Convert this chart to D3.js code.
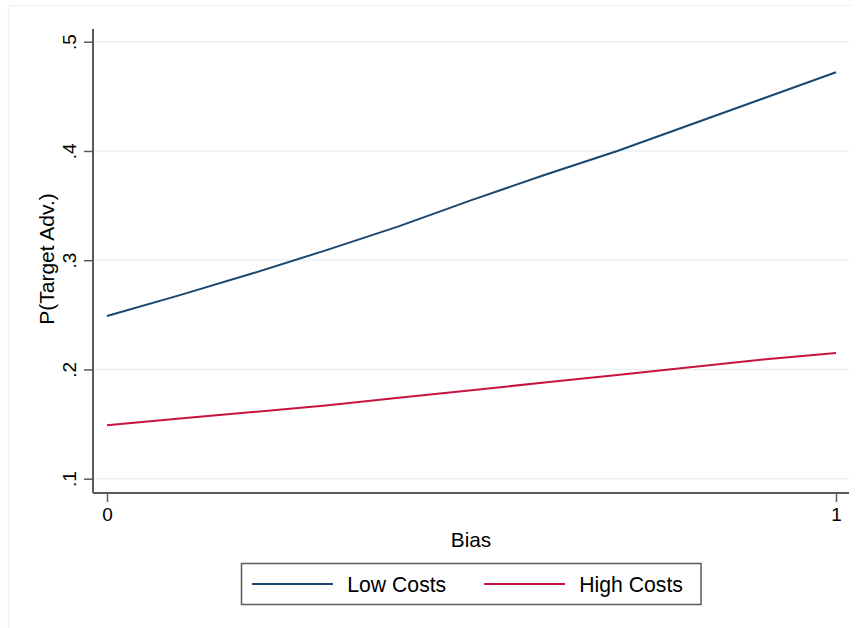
<!DOCTYPE html>
<html>
<head>
<meta charset="utf-8">
<script src="https://cdn.jsdelivr.net/npm/d3@7"></script>
<style>
  html, body { margin: 0; padding: 0; background: #ffffff; }
  svg { display: block; font-family: "Liberation Sans", Arial, Helvetica, sans-serif; }
</style>
</head>
<body>
<svg id="chart" width="861" height="628"></svg>
<script>
// ---- data ----
const biasValues = [0, 0.1, 0.2, 0.3, 0.4, 0.5, 0.6, 0.7, 0.8, 0.9, 1];
const lowCosts   = [0.249, 0.268, 0.288, 0.309, 0.331, 0.355, 0.378, 0.400, 0.424, 0.448, 0.472];
const highCosts  = [0.149, 0.155, 0.161, 0.167, 0.174, 0.181, 0.188, 0.195, 0.202, 0.209, 0.215];
const seriesNames = ["Low Costs", "High Costs"];
const yTicks = [0.1, 0.2, 0.3, 0.4, 0.5];
const xTicks = [0, 1];
const xTitle = "Bias";
const yTitle = "P(Target Adv.)";

const colors = ["#1a476f", "#c8133f"];
const series = [lowCosts, highCosts];

const svg = d3.select("#chart");

// outer faint frame (top & left edges)
svg.append("line").attr("x1", 8).attr("x2", 851).attr("y1", 5.5).attr("y2", 5.5)
  .attr("stroke", "#edf2f3").attr("stroke-width", 1.5);
svg.append("line").attr("x1", 8.5).attr("x2", 8.5).attr("y1", 5).attr("y2", 628)
  .attr("stroke", "#edf2f3").attr("stroke-width", 1.5);

// scales
const x = d3.scaleLinear().domain([0, 1]).range([107, 836]);
const y = d3.scaleLinear().domain([0.1, 0.5]).range([478.7, 41.7]);
const plotLeft = 93, plotRight = 849, plotTop = 29, plotBottom = 493;

// gridlines
svg.append("g").selectAll("line").data(yTicks).join("line")
  .attr("x1", plotLeft).attr("x2", plotRight)
  .attr("y1", d => y(d)).attr("y2", d => y(d))
  .attr("stroke", "#eaf1f3").attr("stroke-width", 1.5);

const fmt = d => d3.format(".1f")(d).replace(/^0\./, ".");

// y axis
const yAxis = svg.append("g").attr("transform", `translate(${plotLeft},0)`)
  .call(d3.axisLeft(y).tickValues(yTicks).tickFormat(fmt).tickSize(9).tickPadding(0));
yAxis.select(".domain").remove();
yAxis.selectAll(".tick line").attr("stroke", "#5a5a5a").attr("stroke-width", 1.5);
yAxis.selectAll(".tick text")
  .attr("x", 0).attr("dy", null)
  .attr("transform", "translate(-17,0) rotate(-90)")
  .attr("text-anchor", "middle")
  .attr("font-size", 19).attr("fill", "#000")
  .attr("font-family", "Liberation Sans, Arial, sans-serif");
svg.append("line").attr("x1", plotLeft).attr("x2", plotLeft)
  .attr("y1", plotTop).attr("y2", plotBottom)
  .attr("stroke", "#5a5a5a").attr("stroke-width", 2);

// x axis
const xAxis = svg.append("g").attr("transform", `translate(0,${plotBottom})`)
  .call(d3.axisBottom(x).tickValues(xTicks).tickFormat(d3.format("d")).tickSize(9).tickPadding(0));
xAxis.select(".domain").remove();
xAxis.selectAll(".tick line").attr("stroke", "#5a5a5a").attr("stroke-width", 1.5);
xAxis.selectAll(".tick text")
  .attr("y", 27.5).attr("dy", null)
  .attr("font-size", 19).attr("fill", "#000")
  .attr("font-family", "Liberation Sans, Arial, sans-serif");
svg.append("line").attr("x1", plotLeft).attr("x2", plotRight)
  .attr("y1", plotBottom).attr("y2", plotBottom)
  .attr("stroke", "#5a5a5a").attr("stroke-width", 2);

// axis titles
svg.append("text").attr("x", (plotLeft + plotRight) / 2).attr("y", 546.5)
  .attr("text-anchor", "middle").attr("font-size", 20.8).attr("fill", "#000").text(xTitle);
svg.append("text").attr("transform", "translate(53.5,259) rotate(-90)")
  .attr("text-anchor", "middle").attr("font-size", 21).attr("fill", "#000").text(yTitle);

// lines
const line = d3.line().x((d, i) => x(biasValues[i])).y(d => y(d));
svg.append("g").selectAll("path").data(series).join("path")
  .attr("d", d => line(d))
  .attr("fill", "none")
  .attr("stroke", (d, i) => colors[i])
  .attr("stroke-width", 2);

// legend
svg.append("rect").attr("x", 241.5).attr("y", 563.5).attr("width", 459.5).attr("height", 41)
  .attr("fill", "#fff").attr("stroke", "#5a5a5a").attr("stroke-width", 1.5);
const legendLineX = [252, 484];
const legendTextX = [347.3, 579.3];
seriesNames.forEach((name, i) => {
  svg.append("line").attr("x1", legendLineX[i]).attr("x2", legendLineX[i] + 81)
    .attr("y1", 584).attr("y2", 584)
    .attr("stroke", colors[i]).attr("stroke-width", 2);
  svg.append("text").attr("x", legendTextX[i]).attr("y", 591.5)
    .attr("font-size", 21.2).attr("fill", "#000").text(name);
});
</script>
</body>
</html>
